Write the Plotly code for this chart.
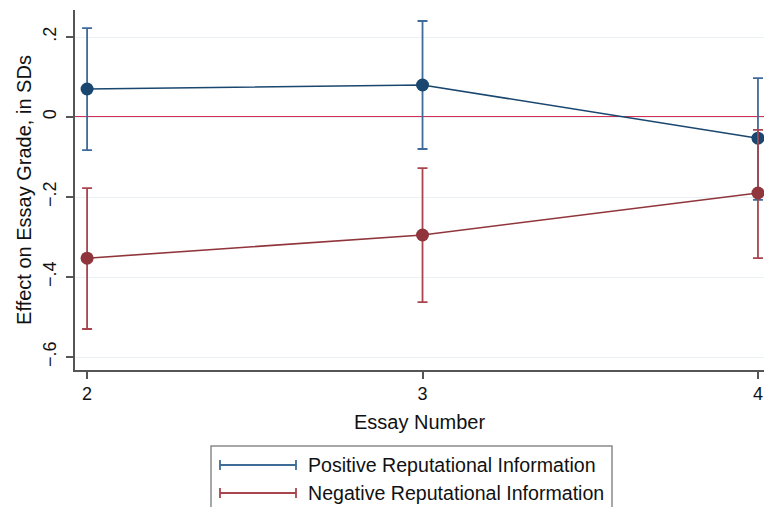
import plotly.graph_objects as go

# Essay numbers and estimated effects (in SDs) with 95% CI bounds
essays = [2, 3, 4]

pos_effect = [0.070, 0.080, -0.053]
pos_upper = [0.222, 0.240, 0.097]
pos_lower = [-0.083, -0.080, -0.207]

neg_effect = [-0.353, -0.295, -0.190]
neg_upper = [-0.178, -0.128, -0.032]
neg_lower = [-0.530, -0.463, -0.353]

y_ticks = [0.2, 0, -0.2, -0.4, -0.6]
y_tick_text = [".2", "0", "−.2", "−.4", "−.6"]
x_ticks = [2, 3, 4]

series_names = ["Positive Reputational Information", "Negative Reputational Information"]

BLUE = "#1a476f"
BLUE_CI = "#3f6b98"
RED = "#90353b"
RED_CI = "#a8454f"
ZERO = "#d62f55"
FONT = "Liberation Sans, Arial, Helvetica, sans-serif"
FS = 20
TICK_FS = 18

fig = go.Figure()


def add_series(effect, upper, lower, color, ci_color, name):
    plus = [u - e for u, e in zip(upper, effect)]
    minus = [e - l for e, l in zip(effect, lower)]
    fig.add_trace(go.Scatter(
        x=essays, y=effect, mode="lines+markers", name=name,
        line=dict(color=color, width=1.6),
        marker=dict(color=color, size=13),
        error_y=dict(type="data", array=plus, arrayminus=minus,
                     color=ci_color, thickness=1.8, width=5),
        showlegend=False,
    ))


add_series(pos_effect, pos_upper, pos_lower, BLUE, BLUE_CI, series_names[0])
add_series(neg_effect, neg_upper, neg_lower, RED, RED_CI, series_names[1])

W, H = 764, 507
L, R, T, B = 75, 0, 10, 137
pw, ph = W - L - R, H - T - B


def px(x):
    return (x - L) / pw


def py(y):
    return (H - B - y) / ph


shapes = [
    # zero reference line
    dict(type="line", xref="paper", yref="y", x0=0, x1=1, y0=0, y1=0,
         line=dict(color=ZERO, width=2), layer="below"),
    # legend frame
    dict(type="rect", xref="paper", yref="paper",
         x0=px(211), x1=px(612), y0=py(446), y1=py(520),
         line=dict(color="#8a8a8a", width=1.5), fillcolor="rgba(0,0,0,0)",
         layer="above"),
]
annotations = []
for i, (name, col) in enumerate(zip(series_names, [BLUE_CI, RED_CI])):
    yy = 465 + 28 * i
    shapes.append(dict(type="line", xref="paper", yref="paper",
                       x0=px(220), x1=px(296), y0=py(yy), y1=py(yy),
                       line=dict(color=col, width=1.8)))
    for xc in (220, 296):
        shapes.append(dict(type="line", xref="paper", yref="paper",
                           x0=px(xc), x1=px(xc), y0=py(yy - 5), y1=py(yy + 5),
                           line=dict(color=col, width=1.8)))
    annotations.append(dict(xref="paper", yref="paper", x=px(306), y=py(yy),
                            xanchor="left", yanchor="middle", showarrow=False,
                            text=name, font=dict(family=FONT, size=19.6, color="#111111")))

fig.update_layout(
    width=W, height=H,
    margin=dict(l=L, r=R, t=T, b=B),
    paper_bgcolor="white", plot_bgcolor="white",
    font=dict(family=FONT, size=FS, color="#111111"),
    shapes=shapes, annotations=annotations,
    xaxis=dict(
        range=[1.964, 4.018], tickvals=x_ticks, ticktext=[str(v) for v in x_ticks],
        showgrid=False, zeroline=False,
        showline=True, linecolor="#555555", linewidth=1.5,
        ticks="outside", ticklen=7, tickcolor="#555555", tickwidth=1.5,
        tickfont=dict(size=TICK_FS),
        title=dict(text="Essay Number", font=dict(size=FS), standoff=12),
    ),
    yaxis=dict(
        range=[-0.6325, 0.2675], tickvals=y_ticks, ticktext=y_tick_text,
        tickangle=-90, ticklabelstandoff=3,
        showgrid=True, gridcolor="#eaf1f4", gridwidth=1.2, zeroline=False,
        showline=True, linecolor="#555555", linewidth=1.5,
        ticks="outside", ticklen=7, tickcolor="#555555", tickwidth=1.5,
        tickfont=dict(size=TICK_FS),
        title=dict(text="Effect on Essay Grade, in SDs", font=dict(size=FS), standoff=3),
    ),
)

fig.write_html("out.html")
